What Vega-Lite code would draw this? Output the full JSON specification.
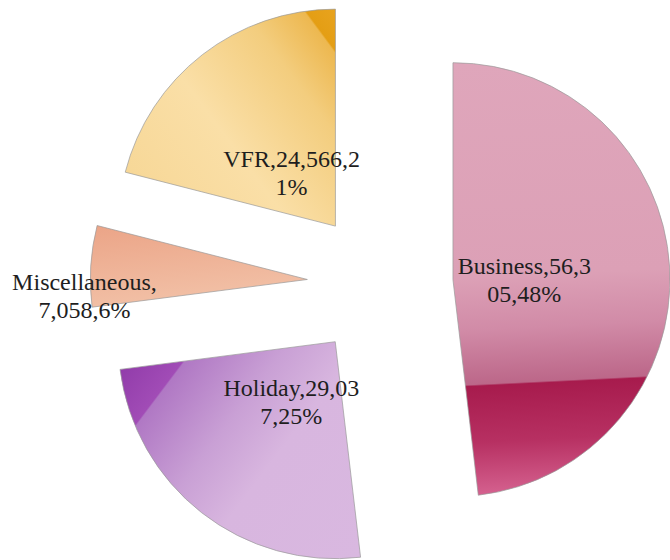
{
  "$schema": "https://vega.github.io/schema/vega-lite/v6.json",
  "width": 670,
  "height": 560,
  "padding": 0,
  "autosize": {"type": "fit", "contains": "padding"},
  "background": "white",
  "config": {"view": {"stroke": null}},
  "data": {
    "values": [
      {"category": "Business", "value": 56305, "label": "Business,56,3\n05,48%"},
      {"category": "Holiday", "value": 29037, "label": "Holiday,29,03\n7,25%"},
      {"category": "Miscellaneous", "value": 7058, "label": "Miscellaneous,\n7,058,6%"},
      {"category": "VFR", "value": 24566, "label": "VFR,24,566,2\n1%"}
    ]
  },
  "transform": [
    {"joinaggregate": [{"op": "sum", "field": "value", "as": "total"}]},
    {"window": [{"op": "sum", "field": "value", "as": "cum"}], "frame": [null, 0]},
    {"calculate": "2*PI*(datum.cum - datum.value)/datum.total", "as": "a0"},
    {"calculate": "2*PI*datum.cum/datum.total", "as": "a1"},
    {"calculate": "(datum.a0 + datum.a1)/2", "as": "mid"},
    {"calculate": "73.5*sin(datum.mid)", "as": "ex"},
    {"calculate": "73.5*cos(datum.mid)", "as": "ey"},
    {"calculate": "(datum.value/datum.total < 0.1 ? 298.5 : 145.5)*sin(datum.mid)", "as": "lx"},
    {"calculate": "(datum.value/datum.total < 0.1 ? 298.5 : 145.5)*cos(datum.mid)", "as": "ly"}
  ],
  "layer": [
    {
      "transform": [{"filter": "datum.category === 'Business'"}],
      "mark": {
        "type": "arc", "radius": 217, "stroke": "#9a9a9a", "strokeWidth": 0.7,
        "fill": {"gradient": "linear", "x1": 0, "y1": 0, "x2": 0.025, "y2": 1,
          "stops": [
            {"offset": 0, "color": "#DFA6BB"},
            {"offset": 0.5, "color": "#DCA0B6"},
            {"offset": 0.62, "color": "#D18BA7"},
            {"offset": 0.746, "color": "#BC6789"},
            {"offset": 0.75, "color": "#A71B4D"},
            {"offset": 0.88, "color": "#B73062"},
            {"offset": 1, "color": "#D4608E"}
          ]}
      },
      "encoding": {
        "x": {"field": "ex", "type": "quantitative", "scale": {"domain": [-383, 287], "nice": false, "zero": false}, "axis": null},
        "y": {"field": "ey", "type": "quantitative", "scale": {"domain": [-275, 285], "nice": false, "zero": false}, "axis": null},
        "theta": {"field": "a0", "type": "quantitative", "stack": null, "scale": {"domain": [0, 6.283185307179586], "range": [0, 6.283185307179586]}},
        "theta2": {"field": "a1"}
      }
    },
    {
      "transform": [{"filter": "datum.category === 'Holiday'"}],
      "mark": {
        "type": "arc", "radius": 217, "stroke": "#9a9a9a", "strokeWidth": 0.7,
        "fill": {"gradient": "linear", "x1": 0, "y1": 0, "x2": 1.149, "y2": 0.781,
          "stops": [
            {"offset": 0, "color": "#8C36A6"},
            {"offset": 0.192, "color": "#A14CB6"},
            {"offset": 0.197, "color": "#B078C4"},
            {"offset": 0.42, "color": "#C9A0D5"},
            {"offset": 0.6, "color": "#D8B6DF"},
            {"offset": 1, "color": "#D9B8E0"}
          ]}
      },
      "encoding": {
        "x": {"field": "ex", "type": "quantitative", "axis": null},
        "y": {"field": "ey", "type": "quantitative", "axis": null},
        "theta": {"field": "a0", "type": "quantitative", "stack": null},
        "theta2": {"field": "a1"}
      }
    },
    {
      "transform": [{"filter": "datum.category === 'Miscellaneous'"}],
      "mark": {
        "type": "arc", "radius": 217, "stroke": "#9a9a9a", "strokeWidth": 0.7,
        "fill": {"gradient": "linear", "x1": 0, "y1": 0, "x2": 0.3, "y2": 1,
          "stops": [
            {"offset": 0, "color": "#EBA487"},
            {"offset": 1, "color": "#F2C1A7"}
          ]}
      },
      "encoding": {
        "x": {"field": "ex", "type": "quantitative", "axis": null},
        "y": {"field": "ey", "type": "quantitative", "axis": null},
        "theta": {"field": "a0", "type": "quantitative", "stack": null},
        "theta2": {"field": "a1"}
      }
    },
    {
      "transform": [{"filter": "datum.category === 'VFR'"}],
      "mark": {
        "type": "arc", "radius": 217, "stroke": "#9a9a9a", "strokeWidth": 0.7,
        "fill": {"gradient": "linear", "x1": 0, "y1": 1, "x2": 1.111, "y2": 0.148,
          "stops": [
            {"offset": 0, "color": "#F6D592"},
            {"offset": 0.45, "color": "#FADFA7"},
            {"offset": 0.75, "color": "#F3CD7E"},
            {"offset": 0.912, "color": "#EDB850"},
            {"offset": 0.918, "color": "#E49E14"},
            {"offset": 1, "color": "#E8A31E"}
          ]}
      },
      "encoding": {
        "x": {"field": "ex", "type": "quantitative", "axis": null},
        "y": {"field": "ey", "type": "quantitative", "axis": null},
        "theta": {"field": "a0", "type": "quantitative", "stack": null},
        "theta2": {"field": "a1"}
      }
    },
    {
      "transform": [{"filter": "datum.value/datum.total >= 0.1"}],
      "mark": {"type": "text", "font": "Liberation Serif", "fontSize": 24, "lineHeight": 28, "lineBreak": "\n", "align": "center", "baseline": "middle", "dy": -9, "color": "#1E1E1E"},
      "encoding": {
        "x": {"field": "lx", "type": "quantitative", "axis": null},
        "y": {"field": "ly", "type": "quantitative", "axis": null},
        "text": {"field": "label", "type": "nominal"}
      }
    },
    {
      "transform": [{"filter": "datum.value/datum.total < 0.1"}],
      "mark": {"type": "text", "font": "Liberation Serif", "fontSize": 24, "lineHeight": 28, "lineBreak": "\n", "align": "center", "baseline": "middle", "dy": 17, "color": "#1E1E1E"},
      "encoding": {
        "x": {"field": "lx", "type": "quantitative", "axis": null},
        "y": {"field": "ly", "type": "quantitative", "axis": null},
        "text": {"field": "label", "type": "nominal"}
      }
    }
  ]
}
